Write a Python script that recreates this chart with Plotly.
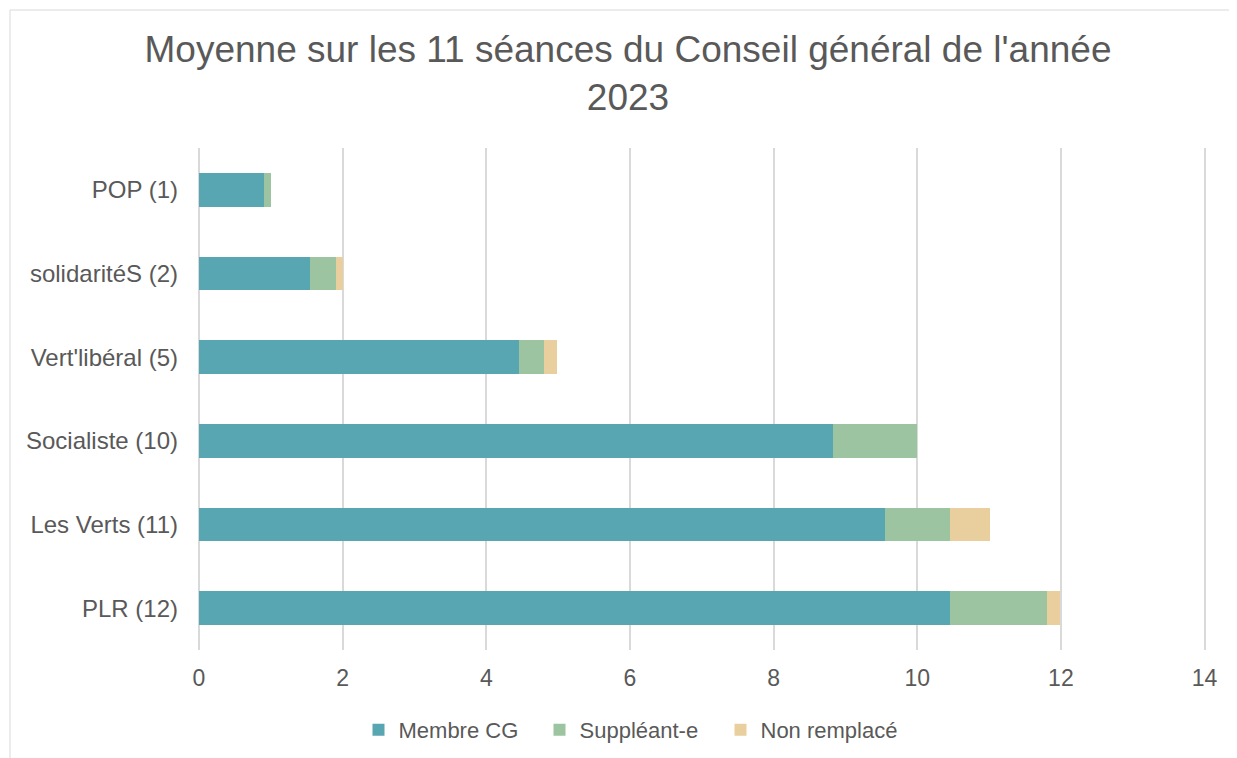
import plotly.graph_objects as go

categories = ["POP (1)", "solidaritéS (2)", "Vert'libéral (5)", "Socialiste (10)", "Les Verts (11)", "PLR (12)"]
membre_cg = [0.91, 1.55, 4.45, 8.82, 9.55, 10.45]
suppleant = [0.09, 0.36, 0.36, 1.18, 0.91, 1.36]
non_remplace = [0.0, 0.09, 0.18, 0.0, 0.55, 0.18]
series_names = ["Membre CG", "Suppléant-e", "Non remplacé"]
x_ticks = [0, 2, 4, 6, 8, 10, 12, 14]
title = "Moyenne sur les 11 séances du Conseil général de l'année<br>2023"

colors = ["#58A6B2", "#9DC4A0", "#E9CF9D"]

fig = go.Figure()
for name, vals, col in zip(series_names, [membre_cg, suppleant, non_remplace], colors):
    fig.add_trace(go.Bar(
        y=categories, x=vals, name=name, orientation="h",
        marker=dict(color=col, line=dict(width=0)),
    ))

OFF = 8  # page body margin
W, H = 1229, 750
L, R, T, B = 191, 31, 140, 108
pw, ph = W - L - R, H - T - B

def px_x(p):
    return (p - OFF - L) / pw

def px_y(p):
    return (H - B - (p - OFF)) / ph

FONT = "Liberation Sans, Arial, sans-serif"
GREY = "#595959"

fig.update_layout(
    width=W, height=H,
    barmode="stack",
    bargap=0.6,
    paper_bgcolor="white", plot_bgcolor="white",
    margin=dict(l=L, r=R, t=T, b=B, autoexpand=False),
    font=dict(family=FONT, color=GREY, size=22),
    title=dict(text=title, x=px_x(628), xref="paper", xanchor="center",
               y=1 - 54 / H, yref="container", yanchor="top",
               font=dict(size=37, color=GREY)),
    legend=dict(orientation="h", x=px_x(630), xanchor="center", y=px_y(730), yanchor="middle",
                font=dict(size=22, color=GREY), traceorder="normal",
                itemwidth=30, tracegroupgap=0, entrywidth=136, entrywidthmode="pixels"),
    xaxis=dict(range=[0, 14.02], tickvals=x_ticks, showgrid=True, gridcolor="#D9D9D9", gridwidth=1.5,
               zeroline=True, zerolinecolor="#D9D9D9", zerolinewidth=1.5,
               showline=False, ticks="", ticklabelstandoff=12,
               tickfont=dict(size=23, color=GREY)),
    yaxis=dict(categoryorder="array", categoryarray=categories[::-1],
               showgrid=False, zeroline=False, showline=False, ticks="", ticklabelstandoff=20,
               tickfont=dict(size=24, color=GREY)),
    showlegend=True,
)

fig.add_shape(type="rect", xref="paper", yref="paper",
              x0=px_x(10), x1=px_x(1245), y0=px_y(765), y1=px_y(10),
              line=dict(color="#D9D9D9", width=1), fillcolor="rgba(0,0,0,0)", layer="below")

fig.write_html("out.html")
